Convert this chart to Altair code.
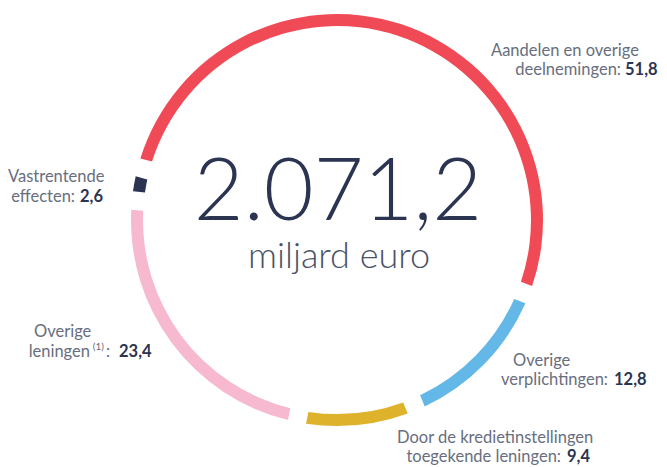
import math
import altair as alt
import pandas as pd

# ---- data ----
categories = [
    "Aandelen en overige deelnemingen",
    "Overige verplichtingen",
    "Door de kredietinstellingen toegekende leningen",
    "Overige leningen",
    "Vastrentende effecten",
]
values = [51.8, 12.8, 9.4, 23.4, 2.6]
colors = ["#f04a56", "#64b8e7", "#deb22a", "#f6b9cf", "#2b3451"]
total = 2071.2
unit = "miljard euro"

FONT = "Lato"
GREY = "#686e7e"
NAVY = "#2b3451"
FS = 16.5


def nl(v, dec=1):
    s = f"{v:,.{dec}f}"
    return s.replace(",", "X").replace(".", ",").replace("X", ".")


df = pd.DataFrame({"cat": categories, "value": values, "order": list(range(len(values)))})

start = math.radians(284.8)
ring = alt.Chart(df).mark_arc(innerRadius=194, outerRadius=206, padAngle=0.065).encode(
    theta=alt.Theta("value:Q", stack=True, scale=alt.Scale(range=[start, start + 2 * math.pi])),
    order=alt.Order("order:Q"),
    color=alt.Color("cat:N", scale=alt.Scale(domain=categories, range=colors), legend=None),
    x=alt.value(329),
    y=alt.value(212),
)


def txt(s, x, y, size=FS, weight=400, color=GREY, align="left"):
    return alt.Chart(pd.DataFrame({"t": [s]})).mark_text(
        align=align, baseline="alphabetic", fontSize=size, fontWeight=weight,
        color=color, font=FONT,
    ).encode(text="t:N", x=alt.value(x - 8), y=alt.value(y - 8))


v = [nl(x) for x in values]
layers = [ring]
# Aandelen
layers += [txt("Aandelen en overige", 491, 56),
           txt("deelnemingen:", 621, 75, align="right"),
           txt(v[0], 625, 75, weight=700, color=NAVY)]
# Overige verplichtingen
layers += [txt("Overige", 513, 366),
           txt("verplichtingen:", 608, 385, align="right"),
           txt(v[1], 614, 385, weight=700, color=NAVY)]
# Door de kredietinstellingen
layers += [txt("Door de kredietinstellingen", 397, 443),
           txt("toegekende leningen:", 561, 462, align="right"),
           txt(v[2], 567, 462, weight=700, color=NAVY)]
# Overige leningen
layers += [txt("Overige", 34, 337),
           txt("leningen", 90, 357, align="right"),
           txt("(1)", 104, 350, size=10, align="right"),
           txt(":", 110, 357, align="right"),
           txt(v[3], 119, 357, weight=700, color=NAVY)]
# Vastrentende
layers += [txt("Vastrentende", 8, 182),
           txt("effecten:", 75, 202, align="right"),
           txt(v[4], 80, 202, weight=700, color=NAVY)]
# centre
layers += [txt(nl(total), 338, 220, size=86, weight=300, color=NAVY, align="center"),
           txt(unit, 339, 268, size=36, weight=300, color="#4a5166", align="center")]

chart = alt.layer(*layers).properties(
    width=651, height=459, autosize="none", padding=0
).configure_view(stroke=None)

chart.save("out.html", embed_options={"renderer": "svg", "actions": False})
